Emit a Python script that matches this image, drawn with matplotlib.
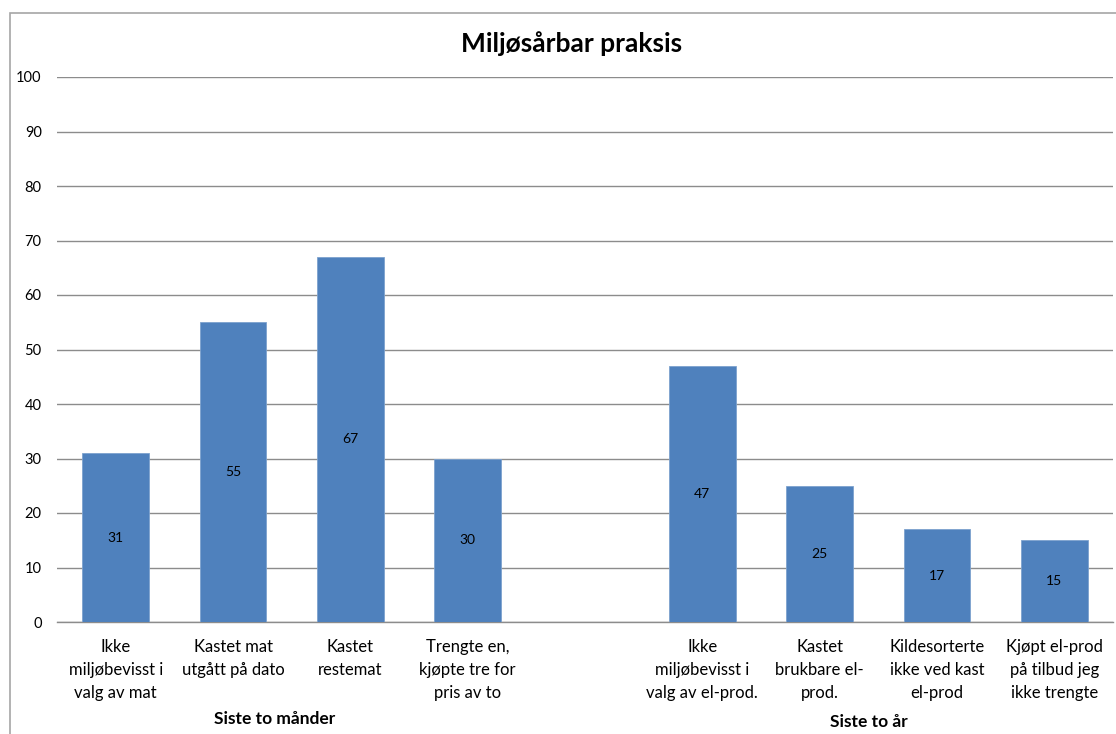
import matplotlib
matplotlib.use("Agg")
import matplotlib.pyplot as plt
from matplotlib.patches import Rectangle

plt.rcParams['font.family'] = ['Lato', 'DejaVu Sans']

# Categories (an empty slot separates the two periods)
categories = [
    "Ikke\nmiljøbevisst i\nvalg av mat",
    "Kastet mat\nutgått på dato",
    "Kastet\nrestemat",
    "Trengte en,\nkjøpte tre for\npris av to",
    "",
    "Ikke\nmiljøbevisst i\nvalg av el-prod.",
    "Kastet\nbrukbare el-\nprod.",
    "Kildesorterte\nikke ved kast\nel-prod",
    "Kjøpt el-prod\npå tilbud jeg\nikke trengte",
]
values = [31, 55, 67, 30, None, 47, 25, 17, 15]
group_labels = ["Siste to månder", "Siste to år"]
title = "Miljøsårbar praksis"
yticks = list(range(0, 101, 10))

W, H = 1116, 734
fig = plt.figure(figsize=(W / 100, H / 100), dpi=100)

# Outer chart frame
fig.patches.append(Rectangle((9.5 / W, -0.01), 1.2, (H - 12.5) / H + 0.01,
                             transform=fig.transFigure, fill=False,
                             edgecolor="#A6A6A6", linewidth=1.2))

ax = fig.add_axes([57 / W, (H - 622) / H, (1113 - 57) / W, (622 - 77) / H])

bar_color = "#4F81BD"
xs = list(range(len(categories)))
for x, v in zip(xs, values):
    if v is None:
        continue
    ax.bar(x, v, width=0.57, color=bar_color, edgecolor="#7DA2CE", linewidth=0.6, zorder=3)
    ax.text(x, v / 2, str(v), ha="center", va="center", fontsize=10, color="black", zorder=4)

ax.set_xlim(-0.5, len(categories) - 0.5)
ax.set_ylim(0, 100)
ax.set_yticks(yticks)
ax.set_yticklabels([str(t) for t in yticks], fontsize=10.5)
ax.yaxis.grid(True, color="#8C8C8C", linewidth=1.0, zorder=0)
ax.set_axisbelow(True)
ax.set_xticks(xs)
ax.set_xticklabels(categories, fontsize=12, linespacing=1.55)
ax.tick_params(axis="both", length=0)
ax.tick_params(axis="y", pad=11)
ax.tick_params(axis="x", pad=12)
for side in ["top", "right", "left"]:
    ax.spines[side].set_visible(False)
ax.spines["bottom"].set_color("#8C8C8C")
ax.spines["bottom"].set_linewidth(1.0)

fig.text(572 / W, 1 - 44 / H, title, ha="center", va="center", fontsize=19, fontweight="bold")
fig.text(275 / W, 1 - 719 / H, group_labels[0], ha="center", va="center", fontsize=12.5, fontweight="bold")
fig.text(869 / W, 1 - 722 / H, group_labels[1], ha="center", va="center", fontsize=12.5, fontweight="bold")

fig.savefig("out.png", dpi=100)
